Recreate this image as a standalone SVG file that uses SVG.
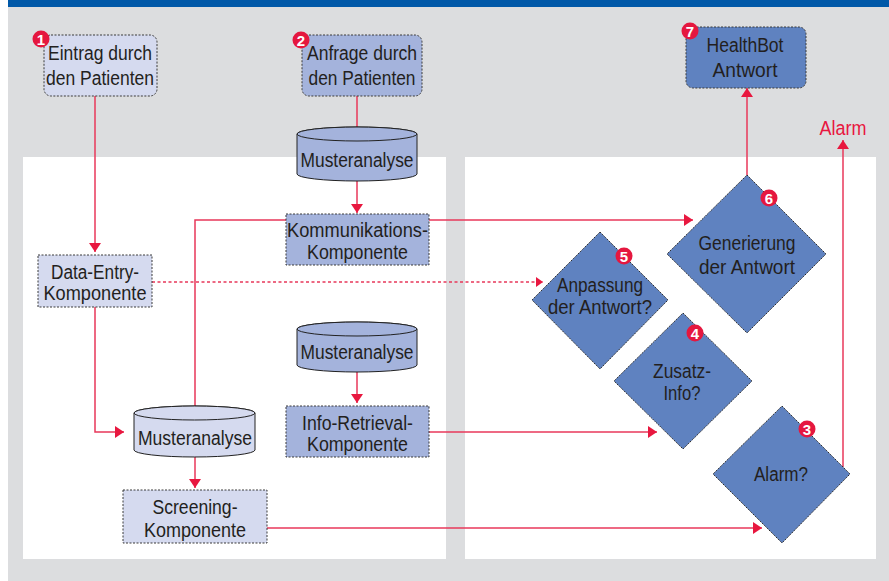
<svg xmlns="http://www.w3.org/2000/svg" width="889" height="581" viewBox="0 0 889 581">
<style>
.t{font-family:"Liberation Sans",Arial,sans-serif;font-size:20px;fill:#231f20;text-anchor:middle}
.light{fill:#d5daef}
.mid{fill:#a4b3dc}
.dark{fill:#5f82c0}
.box{stroke:#3a3a3a;stroke-width:1;stroke-dasharray:2 1.5}
.dia{stroke:#2a2a2a;stroke-width:1;stroke-dasharray:1.5 1}
.cyl{stroke:#222;stroke-width:1}
.ln{fill:none;stroke:#e8375a;stroke-width:1.5}
.badge circle{fill:#e5173f}
.badge text{font-family:"Liberation Sans",Arial,sans-serif;font-size:15px;font-weight:bold;fill:#fff;text-anchor:middle}
</style>
<defs>
<marker id="ah" viewBox="0 0 9 12" markerWidth="9" markerHeight="12" refX="9" refY="6" orient="auto" markerUnits="userSpaceOnUse"><path d="M0,0 L9,6 L0,12 Z" fill="#e8173f"/></marker>
<marker id="ahs" viewBox="0 0 7 10" markerWidth="7" markerHeight="10" refX="7" refY="5" orient="auto" markerUnits="userSpaceOnUse"><path d="M0,0 L7,5 L0,10 Z" fill="#e8173f"/></marker>
</defs>
<rect x="0" y="0" width="889" height="581" fill="#ffffff"/>
<rect x="8" y="0" width="881" height="581" fill="#dcdddf"/>
<rect x="8" y="0" width="881" height="7" fill="#0058a8"/>
<rect x="23" y="157" width="423" height="402" fill="#ffffff"/>
<rect x="465" y="157" width="411" height="402" fill="#ffffff"/>

<g id="connectors">
<path class="ln" d="M95,96 V252" marker-end="url(#ah)"/>
<path class="ln" d="M357,96 V127"/>
<path class="ln" d="M357,181 V213" marker-end="url(#ah)"/>
<path class="ln" d="M286,220 H195 V406"/>
<path class="ln" d="M429,220 H693" marker-end="url(#ah)"/>
<path class="ln" d="M152,282 H543" stroke-dasharray="3 2.5" marker-end="url(#ahs)"/>
<path class="ln" d="M95,307 V432 H124" marker-end="url(#ah)"/>
<path class="ln" d="M195,457 V488" marker-end="url(#ah)"/>
<path class="ln" d="M357,372 V403" marker-end="url(#ah)"/>
<path class="ln" d="M429,432 H657" marker-end="url(#ah)"/>
<path class="ln" d="M267,528 H762" marker-end="url(#ah)"/>
<path class="ln" d="M843,467 V140" marker-end="url(#ah)"/>
<path class="ln" d="M747,175 V88" marker-end="url(#ah)"/>
</g>

<g id="n1">
<rect class="light box" x="44" y="35" width="113" height="61" rx="7"/>
<text class="t" x="100" y="60" textLength="104" lengthAdjust="spacingAndGlyphs">Eintrag durch</text>
<text class="t" x="100" y="85" textLength="108" lengthAdjust="spacingAndGlyphs">den Patienten</text>
<g class="badge"><circle cx="41" cy="39" r="8.5"/><text x="41" y="44.5">1</text></g>
</g>

<g id="n2">
<rect class="mid box" x="302" y="35" width="120" height="61" rx="7"/>
<text class="t" x="362" y="60" textLength="110" lengthAdjust="spacingAndGlyphs">Anfrage durch</text>
<text class="t" x="362" y="85" textLength="107" lengthAdjust="spacingAndGlyphs">den Patienten</text>
<g class="badge"><circle cx="301" cy="40" r="8.5"/><text x="301" y="45.5">2</text></g>
</g>

<g id="n7">
<rect class="dark box" x="686" y="27" width="120" height="61" rx="7"/>
<text class="t" x="745" y="52" textLength="77" lengthAdjust="spacingAndGlyphs">HealthBot</text>
<text class="t" x="745" y="77" textLength="65" lengthAdjust="spacingAndGlyphs">Antwort</text>
<g class="badge"><circle cx="690" cy="31" r="8.5"/><text x="690" y="36.5">7</text></g>
</g>

<g id="cyl1">
<path class="mid cyl" d="M297,134 A60,7 0 0 1 417,134 V174 A60,7 0 0 1 297,174 Z"/>
<ellipse class="mid cyl" cx="357" cy="134" rx="60" ry="7"/>
<text class="t" x="357" y="167" textLength="113" lengthAdjust="spacingAndGlyphs">Musteranalyse</text>
</g>

<g id="komm">
<rect class="mid box" x="286" y="214" width="143" height="51"/>
<text class="t" x="357.5" y="237" textLength="141" lengthAdjust="spacingAndGlyphs">Kommunikations-</text>
<text class="t" x="357.5" y="259" textLength="101" lengthAdjust="spacingAndGlyphs">Komponente</text>
</g>

<g id="dataentry">
<rect class="light box" x="38" y="255" width="114" height="52"/>
<text class="t" x="95" y="279" textLength="88" lengthAdjust="spacingAndGlyphs">Data-Entry-</text>
<text class="t" x="95" y="300" textLength="103" lengthAdjust="spacingAndGlyphs">Komponente</text>
</g>

<g id="cyl2">
<path class="mid cyl" d="M297,329 A60,7 0 0 1 417,329 V365 A60,7 0 0 1 297,365 Z"/>
<ellipse class="mid cyl" cx="357" cy="329" rx="60" ry="7"/>
<text class="t" x="357" y="359" textLength="113" lengthAdjust="spacingAndGlyphs">Musteranalyse</text>
</g>

<g id="inforetrieval">
<rect class="mid box" x="286" y="406" width="143" height="51"/>
<text class="t" x="357.5" y="430" textLength="111" lengthAdjust="spacingAndGlyphs">Info-Retrieval-</text>
<text class="t" x="357.5" y="451" textLength="101" lengthAdjust="spacingAndGlyphs">Komponente</text>
</g>

<g id="cyl3">
<path class="light cyl" d="M134,413 A60.5,7 0 0 1 255,413 V450 A60.5,7 0 0 1 134,450 Z"/>
<ellipse class="light cyl" cx="194.5" cy="413" rx="60.5" ry="7"/>
<text class="t" x="195" y="445" textLength="114" lengthAdjust="spacingAndGlyphs">Musteranalyse</text>
</g>

<g id="screening">
<rect class="light box" x="123" y="490" width="144" height="53"/>
<text class="t" x="195" y="514" textLength="85" lengthAdjust="spacingAndGlyphs">Screening-</text>
<text class="t" x="195" y="537" textLength="102" lengthAdjust="spacingAndGlyphs">Komponente</text>
</g>

<g id="d6">
<polygon class="dark dia" points="747,175 826,254 747,333 667,254"/>
<text class="t" x="747" y="250" textLength="97" lengthAdjust="spacingAndGlyphs">Generierung</text>
<text class="t" x="747" y="274" textLength="96" lengthAdjust="spacingAndGlyphs">der Antwort</text>
<g class="badge"><circle cx="769" cy="198" r="8.5"/><text x="769" y="203.5">6</text></g>
</g>

<g id="d5">
<polygon class="dark dia" points="600,232 668,300 600,369 532,300"/>
<text class="t" x="600" y="292" textLength="86" lengthAdjust="spacingAndGlyphs">Anpassung</text>
<text class="t" x="600" y="314" textLength="104" lengthAdjust="spacingAndGlyphs">der Antwort?</text>
<g class="badge"><circle cx="624" cy="256" r="8.5"/><text x="624" y="261.5">5</text></g>
</g>

<g id="d4">
<polygon class="dark dia" points="683,313 752,381 683,449 614,381"/>
<text class="t" x="682" y="378" textLength="58" lengthAdjust="spacingAndGlyphs">Zusatz-</text>
<text class="t" x="682" y="400" textLength="37" lengthAdjust="spacingAndGlyphs">Info?</text>
<g class="badge"><circle cx="695" cy="333" r="8.5"/><text x="695" y="338.5">4</text></g>
</g>

<g id="d3">
<polygon class="dark dia" points="782,406 850,474 782,543 713,474"/>
<text class="t" x="781" y="481" textLength="54" lengthAdjust="spacingAndGlyphs">Alarm?</text>
<g class="badge"><circle cx="807" cy="429" r="8.5"/><text x="807" y="434.5">3</text></g>
</g>

<g id="alarmlabel">
<text class="t" x="843" y="135" style="fill:#e8173f" textLength="47" lengthAdjust="spacingAndGlyphs">Alarm</text>
</g>
</svg>
